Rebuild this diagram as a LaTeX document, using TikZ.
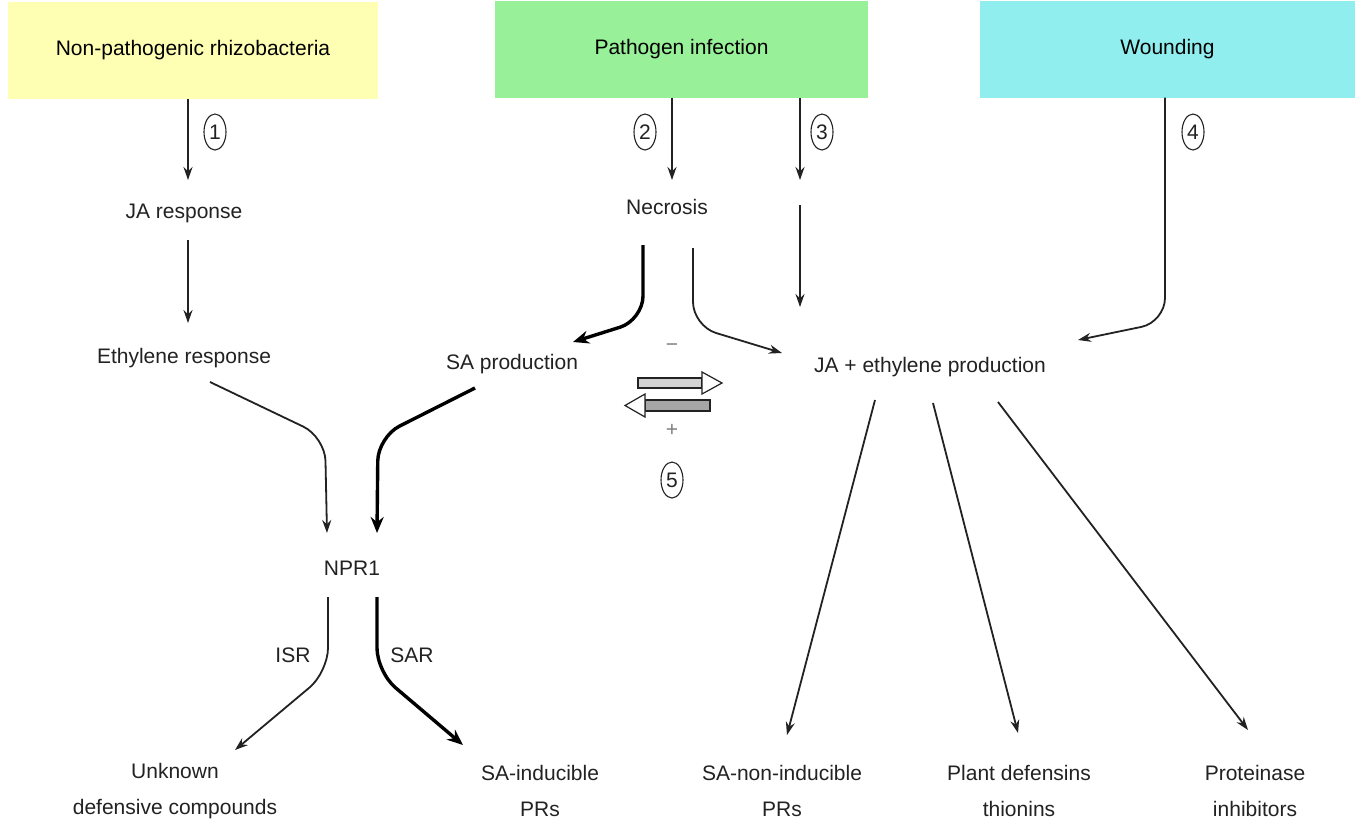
\documentclass[tikz,border=0pt]{standalone}
\usepackage{fontspec}
\setmainfont{Liberation Sans}
\usetikzlibrary{arrows.meta,calc,shapes.geometric}
\definecolor{boxyellow}{HTML}{FFFFB4}
\definecolor{boxgreen}{HTML}{98F098}
\definecolor{boxcyan}{HTML}{90EEEE}
\definecolor{ink}{HTML}{222222}
\begin{document}
\begin{tikzpicture}[x=1pt,y=1pt,
  txt/.style={font=\fontsize{21}{36}\selectfont, align=center, inner sep=0pt, text=ink},
  srcbox/.style={txt, minimum height=97pt, text=black},
  num/.style={draw=ink, ellipse, line width=1.1pt, inner sep=0pt, minimum width=22pt, minimum height=36pt, font=\fontsize{21}{21}\selectfont, text=ink},
  arr/.style={draw=ink, line width=1.8pt, -{Stealth[length=13pt,width=9pt]}, rounded corners=24pt},
  fatarr/.style={draw=black, line width=3.4pt, -{Stealth[length=16pt,width=13pt]}, rounded corners=24pt}]
\useasboundingbox (0,0) rectangle (1355,-836);
\fill[white] (0,0) rectangle (1355,-836);

% source boxes
\node[srcbox, fill=boxyellow, minimum width=370pt] (rhizo) at (193,-50) {Non-pathogenic rhizobacteria};
\node[srcbox, fill=boxgreen, minimum width=373pt] (path) at (681.5,-49) {Pathogen infection};
\node[srcbox, fill=boxcyan, minimum width=375pt] (wound) at (1167.5,-49) {Wounding};

% text nodes
\node[txt] (ja) at (184,-213) {JA response};
\node[txt] (eth) at (184,-358) {Ethylene response};
\node[txt] (nec) at (667,-207) {Necrosis};
\node[txt] (sa) at (512,-364) {SA production};
\node[txt] (jae) at (930,-367) {JA + ethylene production};
\node[txt] (npr) at (352,-568) {NPR1};
\node[txt] (isr) at (293,-655) {ISR};
\node[txt] (sar) at (412,-655) {SAR};
\node[txt] (unk) at (175,-791) {Unknown\\defensive compounds};
\node[txt] (sai) at (540,-791) {SA-inducible\\PRs};
\node[txt] (sani) at (782,-791) {SA-non-inducible\\PRs};
\node[txt] (pdt) at (1019,-791) {Plant defensins\\thionins};
\node[txt] (pri) at (1255,-791) {Proteinase\\inhibitors};
\node[txt, text=gray] (minus) at (672,-348) {−};
\node[txt, text=gray] (plus) at (672,-430) {+};

% numbered ovals
\node[num] (n1) at (215,-132) {1};
\node[num] (n2) at (645,-132) {2};
\node[num] (n3) at (822,-132) {3};
\node[num] (n4) at (1193,-132) {4};
\node[num] (n5) at (672,-480) {5};

% free-end coordinates for pathway 3
\coordinate (c3tip) at (800,-180);
\coordinate (c3mid) at (800,-205);

% connectors
\draw[arr] ($(rhizo.south)+(-5,0)$) -- ($(ja)+(4,33)$);
\draw[arr] ($(ja)+(4,-27)$) -- ($(eth)+(4,35)$);
\draw[arr] ($(path.south)+(-9.5,0)$) -- ($(nec)+(5,27)$);
\draw[arr] ($(path.south)+(118.5,0)$) -- (c3tip);
\draw[arr] (c3mid) -- ($(jae)+(-130,60)$);
\draw[arr] ($(wound.south)+(-2.5,0)$) -- (1165,-322) -- ($(jae)+(148,27)$);
\draw[fatarr] ($(nec)+(-24,-38)$) -- (643,-320) -- ($(sa)+(61,22)$);
\draw[arr] ($(nec)+(26,-41)$) -- (693,-326) -- ($(jae)+(-148,14)$);
\draw[arr] ($(eth)+(26,-24)$) -- (325,-437) -- ($(npr)+(-25,35)$);
\draw[fatarr] ($(sa)+(-37,-24)$) -- (378,-437) -- ($(npr)+(25,35)$);
\draw[arr] ($(npr)+(-24,-29)$) -- (328,-672) -- ($(unk)+(60,41)$);
\draw[fatarr] ($(npr)+(25,-29)$) -- (377,-672) -- ($(sai)+(-77,46)$);
\draw[arr] ($(jae)+(-55,-33)$) -- ($(sani)+(5,56)$);
\draw[arr] ($(jae)+(3,-36)$) -- ($(pdt)+(-1,58)$);
\draw[arr] ($(jae)+(68,-35)$) -- ($(pri)+(-7,61)$);

% crosstalk arrows (5)
\draw[ink, fill=gray!35, line width=1.2pt] (638,-378) rectangle (702,-388);
\draw[ink, fill=white, line width=1.2pt] (702,-372) -- (722,-383) -- (702,-394) -- cycle;
\draw[ink, fill=gray!70, line width=1.2pt] (645,-400) rectangle (710,-411);
\draw[ink, fill=white, line width=1.2pt] (645,-394) -- (625,-405.5) -- (645,-417) -- cycle;
\end{tikzpicture}
\end{document}
